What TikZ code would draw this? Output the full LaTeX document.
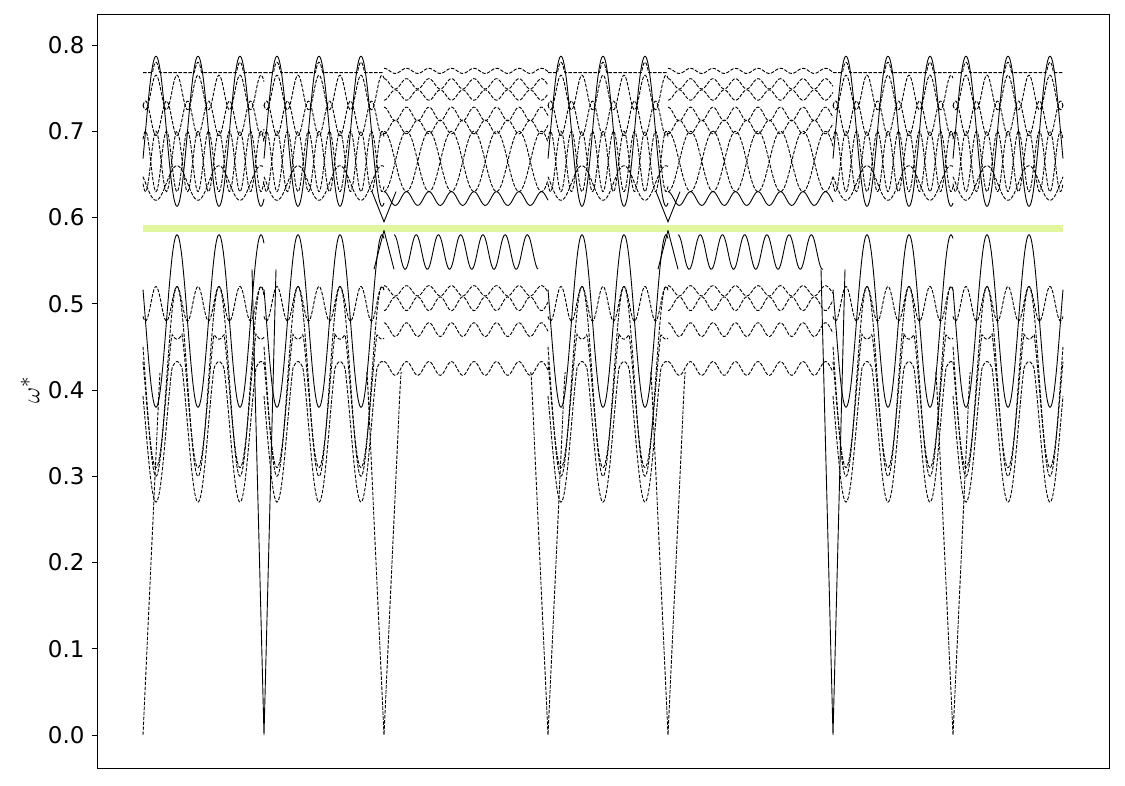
\documentclass[tikz,border=0pt]{standalone}
\usepackage{fontspec}
\setmainfont{DejaVu Sans}
\definecolor{band}{RGB}{226,246,160}
\begin{document}
\begin{tikzpicture}[x=1pt,y=-1pt,
  curve/.style={line width=0.9pt,black},
  dsh/.style={curve,dash pattern=on 3.5pt off 1.5pt},
  tlab/.style={anchor=east,font=\fontsize{23}{26}\selectfont}]
\useasboundingbox (0,0) rectangle (1125,785);
\def\Y#1{735-862.5*(#1)}
\fill[band] (143,225) rectangle (1063,232);
% oscillating segments
\foreach \a/\b in {143/264,264/384,548/668,833/953,953/1063}{
  \def\P{(8.571*(\x-\a-34))}
  \draw[curve] plot[domain=\a:\b,samples=150] (\x,{\Y{0.48+0.1*cos\P}});
  \draw[dsh] plot[domain=\a:\b,samples=150] (\x,{\Y{min(0.515+0.006*cos(2*\P),0.41+0.11*cos\P)}});
  \draw[dsh] plot[domain=\a:\b,samples=150] (\x,{\Y{min(0.465-0.006*cos(2*\P),0.40+0.09*cos\P)}});
  \draw[dsh] plot[domain=\a:\b,samples=150] (\x,{\Y{min(0.425+0.008*cos(2*\P),0.36+0.09*cos\P)}});
  \draw[dsh] plot[domain=\a:\b,samples=150] (\x,{\Y{0.50+0.02*cos(2*\P)}});
  \draw[curve] plot[domain=\a:\b,samples=150] (\x,{\Y{0.70-0.087*cos\P}});
  \draw[dsh] plot[domain=\a:\b,samples=150] (\x,{\Y{max(0.768,0.69-0.09*cos\P)}});
  \draw[dsh] plot[domain=\a:\b,samples=150] (\x,{\Y{0.745+0.02*cos(2*\P)}});
  \draw[dsh] plot[domain=\a:\b,samples=150] (\x,{\Y{0.715-0.02*cos(2*\P)}});
  \draw[dsh] plot[domain=\a:\b,samples=150] (\x,{\Y{0.665+0.035*cos(2*\P+180)}});
  \draw[dsh] plot[domain=\a:\b,samples=150] (\x,{\Y{0.665-0.035*cos(2*\P+180)}});
  \draw[dsh] plot[domain=\a:\b,samples=150] (\x,{\Y{0.64+0.02*cos\P}});
}
% flat segments
\foreach \a/\b in {384/548,668/833}{
  \draw[curve] plot[domain=\a+10:\b-10,samples=150] (\x,{\Y{0.56+0.02*cos(16.2*(\x-\a-10))}});
  \draw[dsh] plot[domain=\a:\b,samples=120] (\x,{\Y{0.515+0.006*cos(16*(\x-\a))}});
  \draw[dsh] plot[domain=\a:\b,samples=120] (\x,{\Y{0.50-0.008*cos(16*(\x-\a))}});
  \draw[dsh] plot[domain=\a:\b,samples=120] (\x,{\Y{0.47+0.008*cos(16*(\x-\a))}});
  \draw[dsh] plot[domain=\a:\b,samples=120] (\x,{\Y{0.425+0.008*cos(16*(\x-\a))}});
  \draw[dsh] plot[domain=\a:\b,samples=120] (\x,{\Y{0.77+0.003*cos(16*(\x-\a))}});
  \draw[dsh] plot[domain=\a:\b,samples=120] (\x,{\Y{0.755+0.006*cos(16*(\x-\a))}});
  \draw[dsh] plot[domain=\a:\b,samples=120] (\x,{\Y{0.742-0.006*cos(16*(\x-\a))}});
  \draw[dsh] plot[domain=\a:\b,samples=120] (\x,{\Y{0.72+0.008*cos(16*(\x-\a))}});
  \draw[dsh] plot[domain=\a:\b,samples=120] (\x,{\Y{0.705-0.008*cos(16*(\x-\a))}});
  \draw[dsh] plot[domain=\a:\b,samples=120] (\x,{\Y{0.665+0.035*cos(8*(\x-\a))}});
  \draw[dsh] plot[domain=\a:\b,samples=120] (\x,{\Y{0.665-0.035*cos(8*(\x-\a))}});
  \draw[curve] plot[domain=\a:\b,samples=120] (\x,{\Y{0.622+0.008*cos(16*(\x-\a))}});
  \draw[curve] (\a,{\Y{0.585}}) -- (\a+10,{\Y{0.54}});
  \draw[curve] (\a-10,{\Y{0.54}}) -- (\a,{\Y{0.585}});
  \draw[curve] (\a-12,{\Y{0.63}}) -- (\a,{\Y{0.595}}) -- (\a+12,{\Y{0.63}});
}
% zero dips
\draw[dsh] plot[domain=143:160,samples=20] (\x,{\Y{min(0.42,0.025*(\x-143))}});
\foreach \z in {384,548,668,953}{
  \draw[dsh] plot[domain=\z-18:\z+18,samples=37] (\x,{\Y{min(0.42,0.025*abs(\x-\z))}});
}
\foreach \z in {264,833}{
  \draw[curve] plot[domain=\z-12:\z+12,samples=29] (\x,{\Y{min(0.54,0.045*abs(\x-\z))}});
}
% axes
\draw[line width=0.8pt] (97,14) rectangle (1109,768);
\foreach \v in {0,1,...,8}{
  \draw[line width=0.8pt] (92,{\Y{\v/10}}) -- (97,{\Y{\v/10}});
  \node[tlab] at (88,{\Y{\v/10}}) {0.\v};
}
\node[rotate=90,font=\fontsize{28}{30}\selectfont] at (30,390) {$\omega^*$};
\end{tikzpicture}
\end{document}
